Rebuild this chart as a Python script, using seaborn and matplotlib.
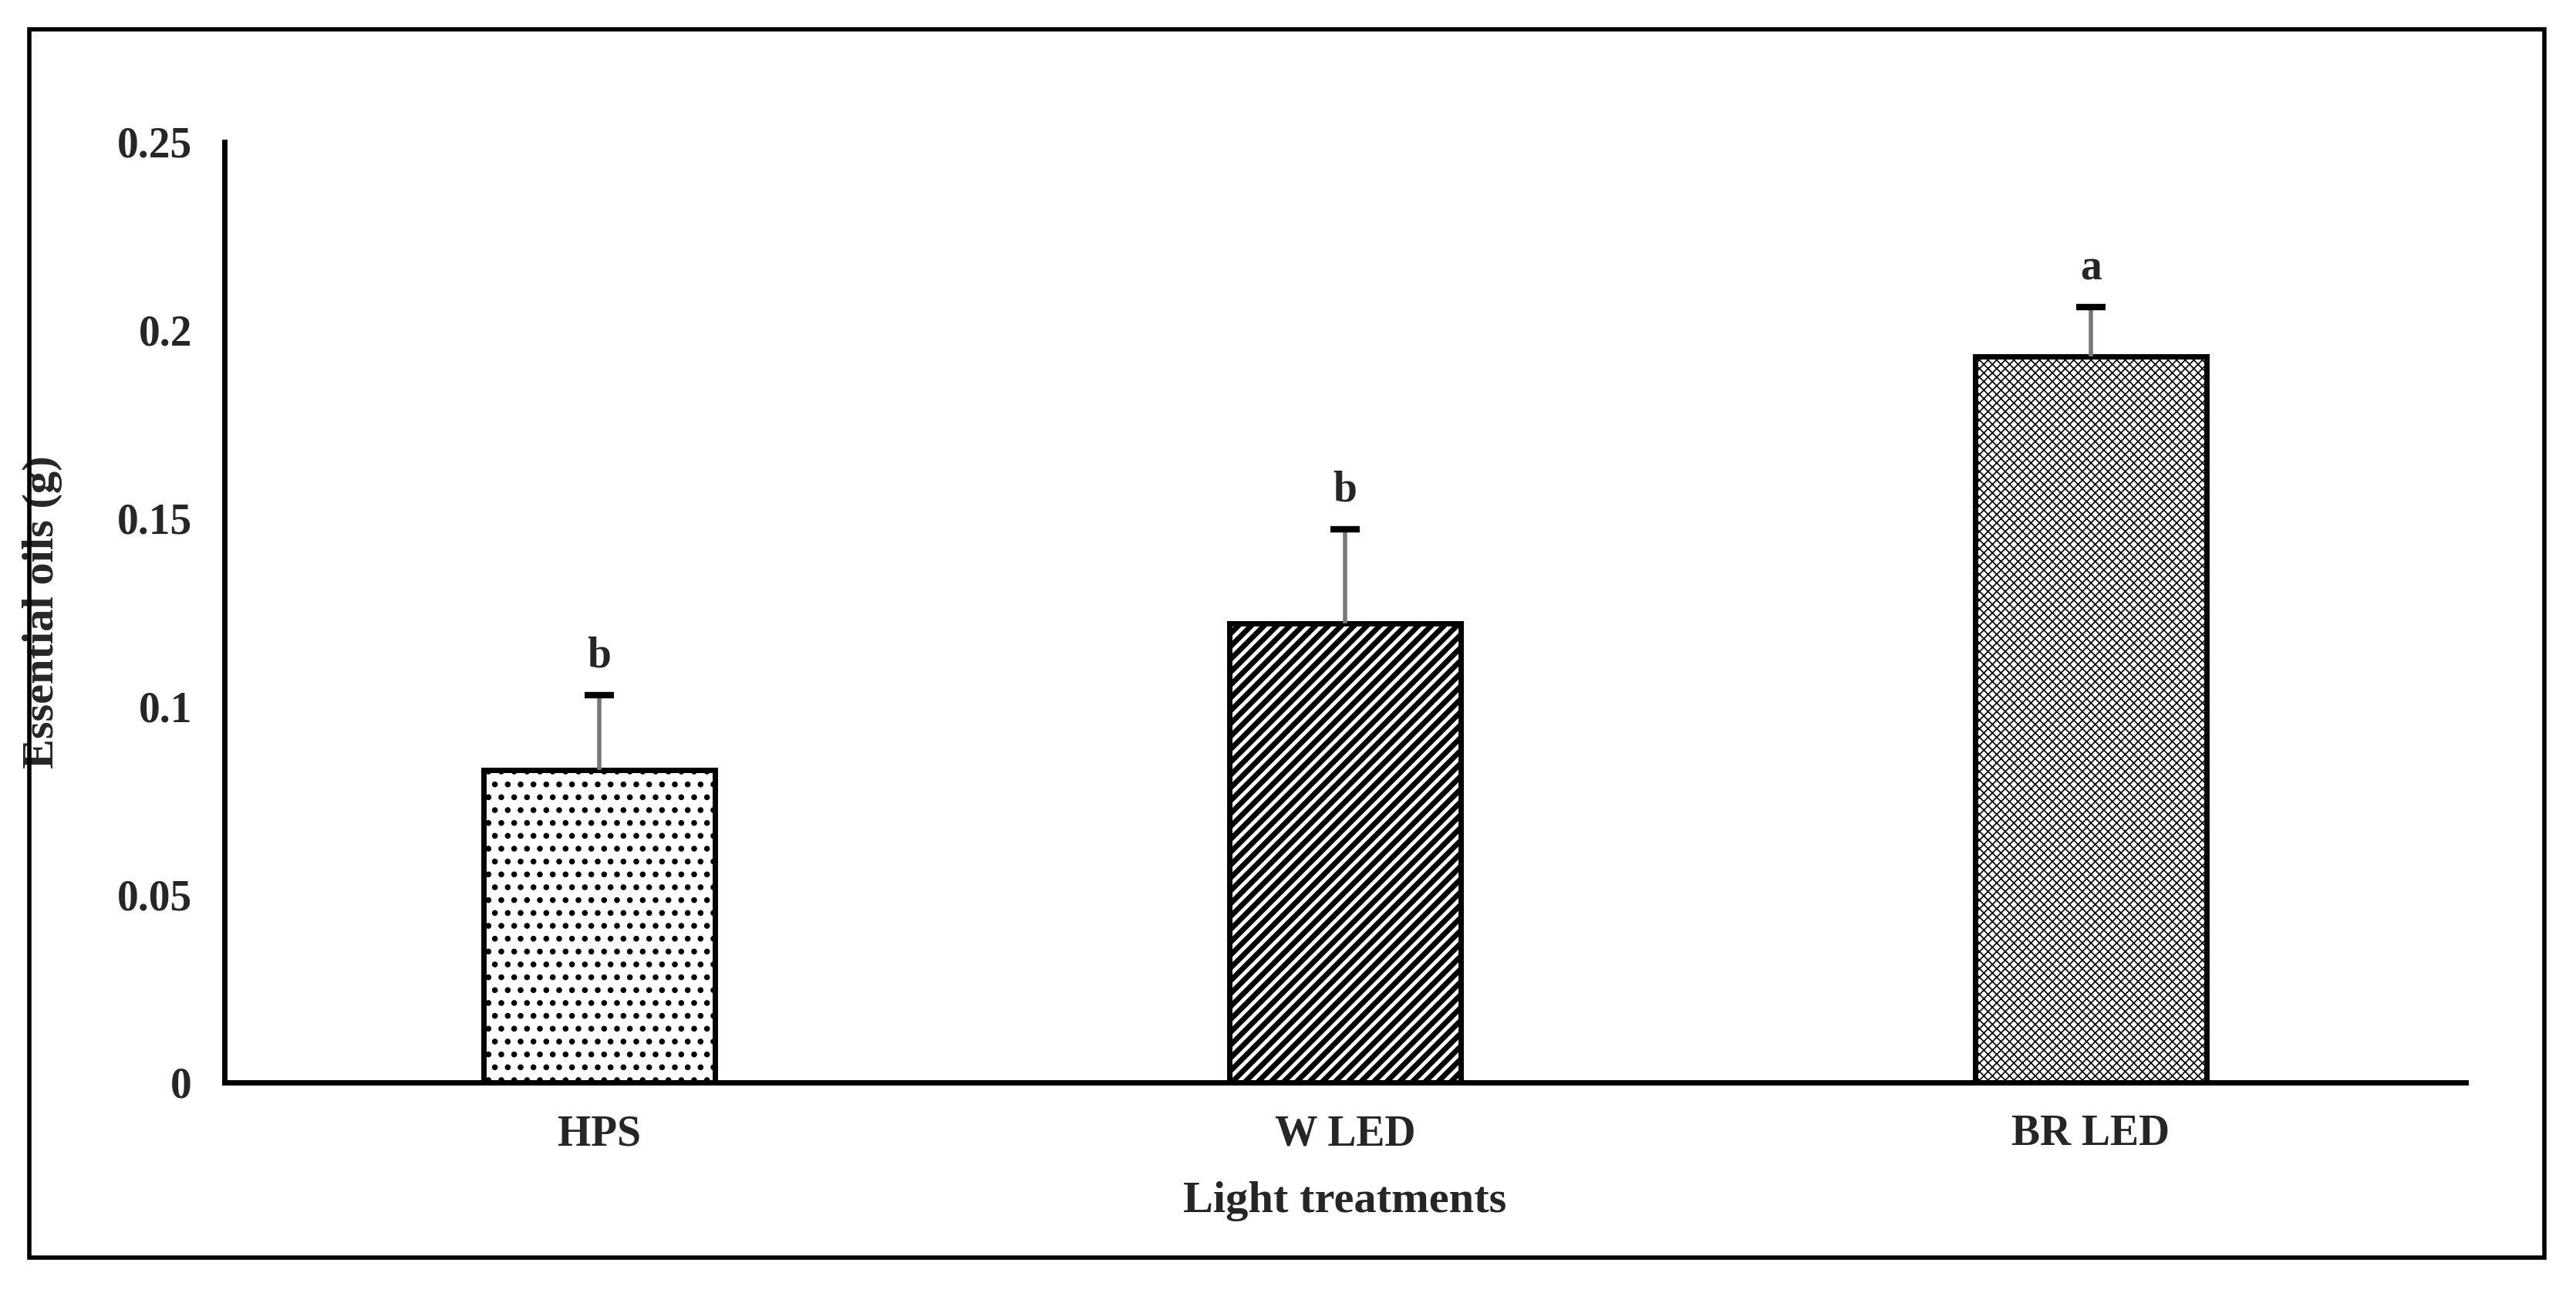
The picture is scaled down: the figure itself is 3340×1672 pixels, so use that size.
import matplotlib
matplotlib.use("Agg")
import matplotlib.pyplot as plt
import seaborn as sns
import pandas as pd
from matplotlib.patches import Rectangle

categories = ["HPS", "W LED", "BR LED"]
values = [0.083, 0.122, 0.193]
errors = [0.020, 0.025, 0.013]
letters = ["b", "b", "a"]
hatches = [".", "//", "xxx"]
hatch_lws = [3.0, 5.0, 1.2]

sns.set_theme(style="white")
plt.rcParams['font.family'] = ['Liberation Serif', 'DejaVu Serif']
plt.rcParams['font.weight'] = 'bold'
plt.rcParams['hatch.linewidth'] = 3

fig = plt.figure(figsize=(33.41, 16.72), dpi=100)
ax = fig.add_axes([0.087, 0.161, 0.870, 0.729])
df = pd.DataFrame({"cat": categories, "val": values})
sns.barplot(data=df, x="cat", y="val", ax=ax, color="white", width=0.31,
            edgecolor="black", linewidth=5, errorbar=None)
for p, h, hl in zip(ax.patches, hatches, hatch_lws):
    p.set_hatch(h)
    if hasattr(p, "set_hatch_linewidth"):
        p.set_hatch_linewidth(hl)
for i, (v, e, l) in enumerate(zip(values, errors, letters)):
    ax.errorbar(i, v, yerr=[[0], [e]], fmt="none", ecolor="#777777", elinewidth=4,
                capsize=0)
    ax.plot([i - 0.02, i + 0.02], [v + e, v + e], color="black", lw=6, solid_capstyle="butt")
    ax.text(i, v + e + 0.005, l, ha="center", va="bottom", fontsize=40, fontweight="bold")

ax.set_xlim(-0.503, 2.503)
ax.set_ylim(0, 0.25)
ax.set_yticks([0, 0.05, 0.1, 0.15, 0.2, 0.25])
ax.set_yticklabels(["0", "0.05", "0.1", "0.15", "0.2", "0.25"])
ax.tick_params(axis="both", labelsize=40, length=0, pad=30)
ax.set_xlabel("Light treatments", fontsize=42, fontweight="bold", labelpad=25)
ax.set_ylabel("Essential oils (g)", fontsize=42, fontweight="bold")
ax.yaxis.set_label_coords(-0.072, 0.5)
for s in ["top", "right"]:
    ax.spines[s].set_visible(False)
for s in ["left", "bottom"]:
    ax.spines[s].set_linewidth(5)
    ax.spines[s].set_color("black")
for t in ax.get_xticklabels() + ax.get_yticklabels():
    t.set_fontweight("bold")

fig.patches.append(Rectangle((0.0115, 0.025), 0.976, 0.952, transform=fig.transFigure,
                             fill=False, edgecolor="black", linewidth=4))
fig.savefig("out.png", dpi=100)
